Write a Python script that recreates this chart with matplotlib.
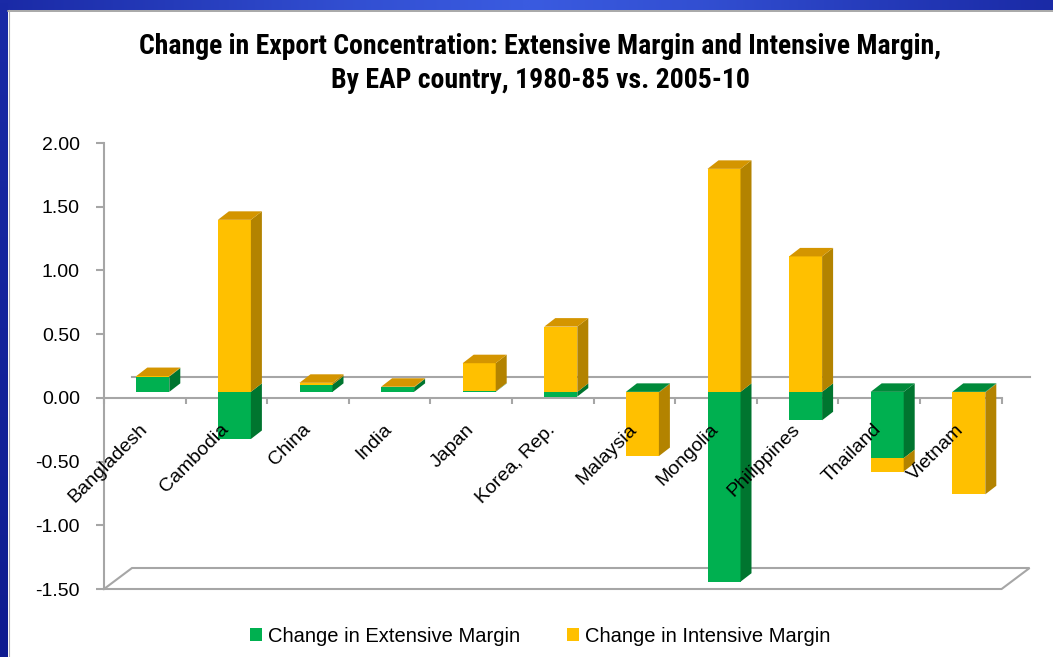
import numpy as np
import matplotlib
matplotlib.use("Agg")
import matplotlib.pyplot as plt
import matplotlib.transforms as mtransforms
from matplotlib.patches import Polygon, Patch
from matplotlib.ticker import FuncFormatter
from matplotlib.colors import LinearSegmentedColormap
from matplotlib import font_manager as fm

# ---------------- data ----------------
countries = ["Bangladesh", "Cambodia", "China", "India", "Japan", "Korea, Rep.",
             "Malaysia", "Mongolia", "Philippines", "Thailand", "Vietnam"]
extensive = [0.12, -0.37, 0.057, 0.036, 0.003, -0.037, -0.004, -1.49, -0.223, -0.52, -0.004]
intensive = [0.004, 1.35, 0.014, 0.004, 0.222, 0.512, -0.50, 1.75, 1.063, -0.105, -0.80]
series_names = ["Change in Extensive Margin", "Change in Intensive Margin"]
yticks = [-1.5, -1.0, -0.5, 0.0, 0.5, 1.0, 1.5, 2.0]
title_lines = ["Change in Export Concentration: Extensive Margin and Intensive Margin,",
               "By EAP country, 1980-85 vs. 2005-10"]

# ---------------- style ----------------
front_cols = ["#00B050", "#FFC000"]
side_cols = ["#00752F", "#B38300"]
top_cols = ["#008A3A", "#D49500"]
GRAY = "#A6A6A6"


def has_font(name):
    try:
        fm.findfont(fm.FontProperties(family=name), fallback_to_default=False)
        return True
    except Exception:
        return False


def title_font():
    for fam in ["Liberation Sans Narrow", "Roboto Condensed", "Open Sans Condensed",
                "Noto Sans Condensed", "DejaVu Sans Condensed"]:
        if has_font(fam):
            return dict(family=[fam, "DejaVu Sans"])
    try:
        p = fm.findfont(fm.FontProperties(family="DejaVu Sans", stretch="condensed",
                                          weight="bold"), fallback_to_default=False)
        if "ondensed" in p:
            return dict(family=["DejaVu Sans"], fontstretch="condensed")
    except Exception:
        pass
    return dict(family=["Liberation Sans", "DejaVu Sans"])


body_family = "Liberation Sans" if has_font("Liberation Sans") else "DejaVu Sans"
plt.rcParams["font.family"] = [body_family, "DejaVu Sans"]

W, H = 1053, 657
fig = plt.figure(figsize=(W / 100, H / 100), dpi=100)
fig.patch.set_facecolor("white")

# background frame (pixel coordinates)
bg = fig.add_axes([0, 0, 1, 1], zorder=-5)
bg.set_xlim(0, W)
bg.set_ylim(H, 0)
bg.axis("off")
top_grad = [0.0, 0.35, 0.75, 1.0, 0.75, 0.35, 0.0]
cm_top = LinearSegmentedColormap.from_list("t", ["#1a2aa6", "#3a5be0"])
bg.imshow(np.interp(np.linspace(0, 1, 400), np.linspace(0, 1, 7), top_grad)[None, :],
          cmap=cm_top, extent=[0, W, 10, 0], aspect="auto", zorder=1)
cm_left = LinearSegmentedColormap.from_list("l", ["#1a2aa6", "#0f1c90"])
bg.imshow(np.linspace(0, 1, 200)[:, None], cmap=cm_left, extent=[0, 8, H, 0],
          aspect="auto", zorder=1)
bg.plot([8, W], [10.5, 10.5], color="#9a9a9a", lw=1.2, zorder=2)
bg.plot([8.5, 8.5], [10, H], color="#b0b0b0", lw=0.8, zorder=2)

# ---------------- main axes ----------------
x0px, x1px = 104, 1001.6
ytop_px, ybot_px = 143, 589
ax = fig.add_axes([x0px / W, 1 - ybot_px / H, (x1px - x0px) / W, (ybot_px - ytop_px) / H])
ncat = len(countries)
ax.set_xlim(0, ncat)
ax.set_ylim(yticks[0], yticks[-1])
ax.patch.set_alpha(0)

pxx = (x1px - x0px) / ncat
pxy = (ybot_px - ytop_px) / (yticks[-1] - yticks[0])


def dx(p):
    return p / pxx


def dy(p):
    return p / pxy


for s in ["top", "right"]:
    ax.spines[s].set_visible(False)
for s in ["left", "bottom"]:
    ax.spines[s].set_color(GRAY)
    ax.spines[s].set_linewidth(1.5)
    ax.spines[s].set_zorder(1.5)
ax.spines["bottom"].set_position(("data", 0))

ax.set_yticks(yticks)
ax.yaxis.set_major_formatter(FuncFormatter(lambda v, p: f"{v:.2f}"))
ax.tick_params(axis="y", direction="out", length=5.8, width=1.5, color=GRAY,
               labelsize=14, pad=11.5)
ax.set_xticks(np.arange(0, ncat + 1))
ax.set_xticklabels([])
ax.tick_params(axis="x", direction="out", length=4.5, width=1.5, color=GRAY)

# 3D geometry (pixel sizes converted to data units)
FX, FY = dx(28), dy(21)      # floor depth
BX, BY = dx(8), dy(6)        # bar front plane offset
DX, DY = dx(11), dy(8.5)     # bar depth
BW = dx(33)                  # bar width
ymin = yticks[0]

ax.plot([FX, ncat + FX], [FY, FY], color=GRAY, lw=1.5, clip_on=False, zorder=1)
ax.plot([0, ncat, ncat + FX, FX, 0], [ymin, ymin, ymin + FY, ymin + FY, ymin],
        color=GRAY, lw=1.5, clip_on=False, zorder=1, solid_joinstyle="miter")

for i in range(ncat):
    xc = i + 0.5 + BX
    xl, xr = xc - BW / 2, xc + BW / 2
    pos, neg = 0.0, 0.0
    top_series = None
    first_neg = None
    for k, vals in enumerate([extensive, intensive]):
        v = vals[i]
        if v >= 0:
            y0, y1 = pos, pos + v
            pos += v
            top_series = k
        else:
            y0, y1 = neg + v, neg
            neg += v
            if first_neg is None:
                first_neg = k
        ax.bar(xc, y1 - y0, bottom=y0 + BY, width=BW, color=front_cols[k],
               edgecolor="none", zorder=3, clip_on=False)
        ax.add_patch(Polygon([(xr, y0 + BY), (xr, y1 + BY), (xr + DX, y1 + BY + DY),
                              (xr + DX, y0 + BY + DY)], closed=True,
                             facecolor=side_cols[k], edgecolor="none", zorder=3, clip_on=False))
    tk = top_series if top_series is not None else first_neg
    yt = pos + BY
    ax.add_patch(Polygon([(xl, yt), (xr, yt), (xr + DX, yt + DY), (xl + DX, yt + DY)],
                         closed=True, facecolor=top_cols[tk], edgecolor="none",
                         zorder=3.1, clip_on=False))

# category labels
lab_off = mtransforms.ScaledTranslation(0 / 100, -29 / 100, fig.dpi_scale_trans)
for i, name in enumerate(countries):
    ax.text(i + 0.5, 0, name, rotation=45, rotation_mode="anchor", ha="right", va="center",
            fontsize=14, transform=ax.transData + lab_off, zorder=5, clip_on=False)

# title (font size fitted to the reference width of line 1)
tf = title_font()
t1 = fig.text(0.513, 1 - 47 / H, title_lines[0], ha="center", va="center", fontsize=16,
              fontweight="bold", **tf)
t2 = fig.text(0.513, 1 - 80 / H, title_lines[1], ha="center", va="center", fontsize=16,
              fontweight="bold", **tf)
fig.canvas.draw()
w1 = t1.get_window_extent(fig.canvas.get_renderer()).width
fs = 16 * 805 / w1
t1.set_fontsize(fs)
t2.set_fontsize(fs)

# legend
handles = [Patch(facecolor=front_cols[k], edgecolor="none", label=series_names[k]) for k in range(2)]
fig.legend(handles=handles, loc="center", bbox_to_anchor=(540 / W, 1 - 636 / H), ncol=2,
           frameon=False, fontsize=14.5, handlelength=0.62, handleheight=0.62,
           handletextpad=0.3, columnspacing=2.3)

fig.savefig("out.png", dpi=100, facecolor="white")
